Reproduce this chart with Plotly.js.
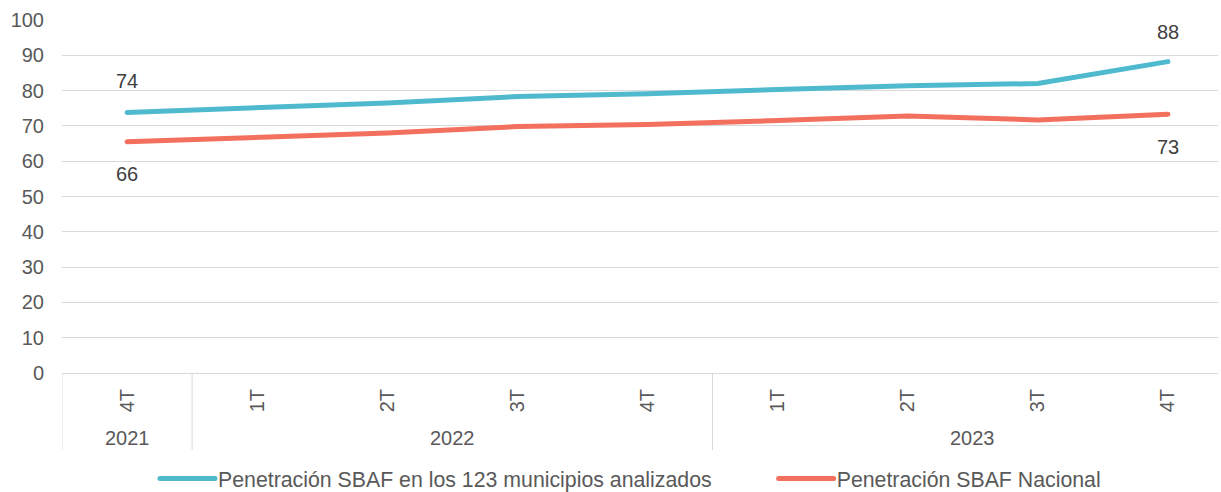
<!DOCTYPE html>
<html><head><meta charset="utf-8">
<script src="https://cdn.plot.ly/plotly-3.0.1.min.js"></script>
<style>html,body{margin:0;padding:0;background:#fff}</style>
</head><body>
<div id="chart" style="width:1221px;height:492px"></div>
<script>
const years = ['2021','2022','2022','2022','2022','2023','2023','2023','2023'];
const quarters = ['4T','1T','2T','3T','4T','1T','2T','3T','4T'];
const municipios = [73.8, 75.2, 76.5, 78.3, 79.1, 80.3, 81.4, 82.0, 88.2];
const nacional = [65.5, 66.8, 68.0, 69.8, 70.4, 71.5, 72.8, 71.7, 73.3];
const seriesNames = ['Penetración SBAF en los 123 municipios analizados','Penetración SBAF Nacional'];

const FONT = 'Liberation Sans, Arial, sans-serif';
const idx = quarters.map((_, i) => i);
const last = idx.length - 1;
const labelFont = {family:FONT, size:20, color:'#404040'};

// data labels
const annotations = [
  {x:0, y:municipios[0], text:String(Math.round(municipios[0])), yshift:31},
  {x:0, y:nacional[0], text:String(Math.round(nacional[0])), yshift:-32},
  {x:last, y:municipios[last], text:String(Math.round(municipios[last])), yshift:30},
  {x:last, y:nacional[last], text:String(Math.round(nacional[last])), yshift:-33}
].map(a => Object.assign({xref:'x', yref:'y', showarrow:false, font:labelFont}, a));

// year group labels and dividers
const shapes = [];
const groups = [];
years.forEach((yr, i) => {
  if (!groups.length || groups[groups.length-1].name !== yr) groups.push({name:yr, start:i, end:i});
  else groups[groups.length-1].end = i;
});
groups.forEach(g => {
  annotations.push({xref:'x', yref:'paper', x:(g.start + g.end)/2, y:-0.183, yanchor:'middle',
    text:g.name, showarrow:false, font:{family:FONT, size:20, color:'#595959'}});
  shapes.push({type:'line', xref:'x', yref:'paper', x0:g.start-0.5, x1:g.start-0.5, y0:0, y1:-0.218,
    line:{color:'#d9d9d9', width:1}});
});

const data = [
  {x:idx, y:municipios, name:seriesNames[0], type:'scatter', mode:'lines',
   line:{color:'#4FBACE', width:5}},
  {x:idx, y:nacional, name:seriesNames[1], type:'scatter', mode:'lines',
   line:{color:'#F36F5E', width:5}}
];
const layout = {
  width:1221, height:492,
  margin:{l:62, r:3, t:20, b:119, autoexpand:false},
  paper_bgcolor:'#fff', plot_bgcolor:'#fff',
  font:{family:FONT, size:20, color:'#595959'},
  showlegend:true,
  legend:{orientation:'h', x:0.5, xanchor:'center', y:-0.241, yanchor:'top',
          font:{size:21.3, color:'#595959'}, tracegroupgap:0, itemwidth:60},
  xaxis:{type:'linear', range:[-0.5, last+0.385], tickmode:'array', tickvals:idx, ticktext:quarters,
         tickangle:-90, showline:true, linecolor:'#d9d9d9', linewidth:1, showgrid:false,
         zeroline:false, ticks:'', ticklabelstandoff:7, automargin:false,
         tickfont:{size:20, color:'#595959'}},
  yaxis:{range:[0,100], dtick:10, showgrid:true, gridcolor:'#d9d9d9', gridwidth:1,
         zeroline:false, showline:false, ticks:'', tickfont:{size:20, color:'#595959'},
         ticklabelstandoff:17, automargin:false},
  annotations:annotations,
  shapes:shapes
};

function shiftTranslate(el, dx) {
  const tf = el.getAttribute('transform') || '';
  const m = tf.match(/translate\(\s*([-\d.e]+)[ ,]+([-\d.e]+)\s*\)/);
  if (m) el.setAttribute('transform', tf.replace(m[0], 'translate(' + (parseFloat(m[1]) + dx) + ',' + m[2] + ')'));
  else el.setAttribute('transform', 'translate(' + dx + ',0) ' + tf);
}

Plotly.newPlot('chart', data, layout, {displayModeBar:false, staticPlot:true}).then(gd => {
  const items = gd.querySelectorAll('.legend .traces');
  items.forEach(tr => {
    const t = tr.querySelector('text.legendtext');
    const p = tr.querySelector('.legendlines path');
    if (!t || !p) return;
    const tx = parseFloat(t.getAttribute('x')) || 40;
    p.setAttribute('d', 'M' + (tx - 58) + ',0h55');
    p.style.strokeLinecap = 'round';
  });
  // spacing of the legend entries as in the original
  gd.querySelectorAll('.legend [clip-path]').forEach(e => e.removeAttribute('clip-path'));
  const leg = gd.querySelector('.legend');
  if (leg) shiftTranslate(leg, -38);
  if (items[1]) shiftTranslate(items[1], 50);
  gd.querySelectorAll('.scatterlayer .js-line').forEach(p => { p.style.strokeLinecap = 'round'; });
});
</script>
</body></html>
